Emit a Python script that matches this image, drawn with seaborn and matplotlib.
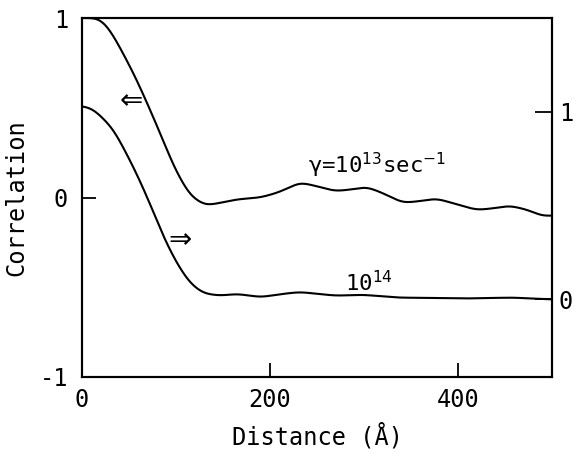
import numpy as np
import pandas as pd
import seaborn as sns
import matplotlib
matplotlib.use("Agg")
import matplotlib.pyplot as plt

# gamma = 1e13 curve (left axis)
x13 = [0, 18, 28, 40, 56, 69, 83, 97, 106, 115, 131, 147, 165, 190, 210, 232, 252, 269, 287, 303, 322, 341, 360, 377, 400, 420, 438, 455, 475, 490, 500]
y13 = [1.0, 1.0, 0.95, 0.84, 0.68, 0.53, 0.36, 0.18, 0.09, 0.01, -0.045, -0.03, -0.01, 0.0, 0.03, 0.085, 0.06, 0.035, 0.045, 0.06, 0.02, -0.03, -0.02, -0.005, -0.04, -0.07, -0.06, -0.045, -0.07, -0.105, -0.1]
# gamma = 1e14 curve (right axis)
x14 = [0, 12, 33, 47, 60, 74, 86, 101, 115, 129, 147, 165, 190, 214, 232, 250, 270, 299, 335, 370, 405, 458, 500]
y14 = [1.03, 1.015, 0.91, 0.78, 0.65, 0.49, 0.34, 0.19, 0.085, 0.032, 0.02, 0.03, 0.012, 0.03, 0.04, 0.03, 0.02, 0.025, 0.01, 0.008, 0.005, 0.01, 0.0]

xticks = [0, 200, 400]
yticks_left = [-1, 0, 1]
yticks_right = [0, 1]

sns.set_theme(style="white")
plt.rcParams['font.family'] = ['DejaVu Sans Mono', 'DejaVu Sans']
plt.rcParams['text.color'] = 'black'
plt.rcParams['axes.labelcolor'] = 'black'


def smooth_curve(xs, ys, sigma=6.0, step=0.5):
    xs = np.asarray(xs, float); ys = np.asarray(ys, float)
    xf = np.arange(xs[0], xs[-1] + step / 2, step)
    yl = np.interp(xf, xs, ys)
    r = int(4 * sigma / step)
    k = np.exp(-0.5 * (np.arange(-r, r + 1) * step / sigma) ** 2)
    k /= k.sum()
    ypad = np.concatenate([np.full(r, yl[0]), yl, np.full(r, yl[-1])])
    ys_ = np.convolve(ypad, k, mode="valid")
    return xf, ys_


fig = plt.figure(figsize=(5.84, 4.53), dpi=100)
ax = fig.add_axes([82/584, 1-377/453, (552-82)/584, (377-18)/453])

xa, ya = smooth_curve(x13, y13)
df13 = pd.DataFrame({"x": xa, "y": ya})
sns.lineplot(data=df13, x="x", y="y", ax=ax, color="black", lw=1.5)
ax.set_xlim(0, 500)
ax.set_ylim(-1, 1)

ax2 = ax.twinx()
xb, yb = smooth_curve(x14, y14)
df14 = pd.DataFrame({"x": xb, "y": yb})
sns.lineplot(data=df14, x="x", y="y", ax=ax2, color="black", lw=1.5)
r0, r1 = -0.568, 0.479
scale = r1 - r0
ax2.set_ylim((-1 - r0)/scale, (1 - r0)/scale)
ax2.set_xlim(0, 500)

for a in (ax, ax2):
    for s in a.spines.values():
        s.set_visible(True)
        s.set_color("black")
        s.set_linewidth(1.5)
    a.set_xlabel(""); a.set_ylabel("")

ax.set_xticks(xticks)
ax.set_yticks(yticks_left)
ax.set_xticklabels([str(t) for t in xticks], fontsize=17)
ax.set_yticklabels([str(t) for t in yticks_left], fontsize=17)
ax.tick_params(axis="x", direction="in", length=10, width=1.3, colors="black", pad=8, bottom=True)
ax.tick_params(axis="y", direction="in", length=10, width=1.3, colors="black", pad=10, left=True)
ax2.set_yticks(yticks_right)
ax2.set_yticklabels([str(t) for t in yticks_right], fontsize=17)
ax2.tick_params(axis="y", direction="in", length=12, width=1.3, colors="black", pad=5, right=True)

ax.set_xlabel("Distance (Å)", fontsize=17, labelpad=8, color="black")
ax.set_ylabel("Correlation", fontsize=17, labelpad=8, color="black")

ax.text(52, 0.535, "⇐", fontsize=20, ha="center", va="center", color="black",
        family="DejaVu Sans")
ax.text(104, -0.24, "⇒", fontsize=20, ha="center", va="center", color="black",
        family="DejaVu Sans")
ax.text(240, 0.135, "γ=10$^{13}$sec$^{-1}$", fontsize=16, ha="left", va="baseline",
        color="black", math_fontfamily="dejavusans")
ax.text(280, -0.52, "10$^{14}$", fontsize=16, ha="left", va="baseline", color="black",
        math_fontfamily="dejavusans")

fig.savefig("out.png", dpi=100)
